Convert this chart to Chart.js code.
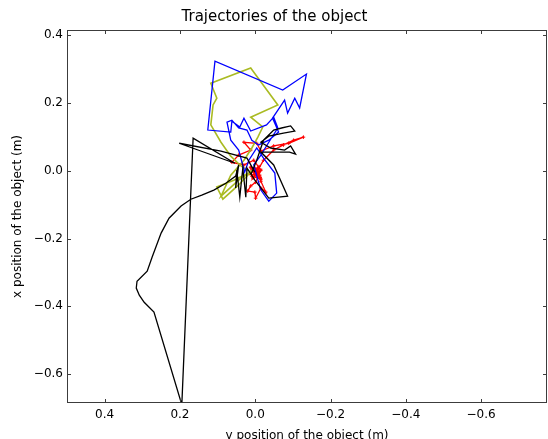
<!DOCTYPE html>
<html>
<head>
<meta charset="utf-8">
<title>Trajectories of the object</title>
<script src="https://cdn.jsdelivr.net/npm/chart.js@4.4.1/dist/chart.umd.min.js"></script>
<style>
  html, body { margin: 0; padding: 0; background: #fff; overflow: hidden; }
  #wrap { width: 548px; height: 439px; overflow: hidden; }
</style>
</head>
<body>
<div id="wrap"><canvas id="traj" width="552" height="450"></canvas></div>
<script>
// horizontal axis = y position, vertical axis = x position (metres)
const blackY = [0.012, -0.004, -0.022, -0.049, -0.070, -0.094, -0.105, -0.075, -0.036, -0.015,
  -0.041, -0.078, -0.094, -0.107, -0.091, -0.015, -0.049, -0.086, -0.036, 0.001,
  0.022, 0.025, 0.033, 0.041, 0.049, 0.052, 0.044, 0.052, 0.078, 0.110,
  0.142, 0.171, 0.197, 0.229, 0.250, 0.274, 0.287, 0.314, 0.316, 0.308,
  0.295, 0.269, 0.195, 0.165, 0.054, 0.202, 0.091, 0.022, 0.001];
const blackX = [-0.013, 0.031, 0.090, 0.120, 0.126, 0.132, 0.117, 0.111, 0.102, 0.084,
  0.067, 0.061, 0.073, 0.049, 0.055, 0.055, 0.017, -0.075, -0.081, -0.028,
  0.008, -0.078, 0.008, -0.078, 0.002, -0.051, 0.017, -0.016, -0.037, -0.057,
  -0.072, -0.084, -0.104, -0.140, -0.184, -0.255, -0.296, -0.326, -0.346, -0.367,
  -0.388, -0.417, -0.690, 0.096, 0.022, 0.081, 0.058, 0.037, -0.004];

const blueY = [-0.001, -0.015, -0.036, -0.057, -0.052, -0.022, -0.004, 0.017, 0.028, 0.044,
  0.065, 0.075, 0.062, 0.044, 0.022, 0.009, -0.009, -0.036, -0.062, -0.046,
  -0.078, -0.086, -0.105, -0.118, -0.136, -0.073, 0.107, 0.126, 0.065, 0.062,
  0.041, 0.030, 0.012, -0.030, -0.049, -0.060, -0.036, -0.015, 0.004, -0.004];
const blueX = [-0.004, -0.057, -0.090, -0.066, -0.007, 0.037, 0.067, 0.031, -0.004, 0.061,
  0.090, 0.143, 0.149, 0.126, 0.120, 0.090, 0.076, 0.090, 0.114, 0.155,
  0.208, 0.170, 0.214, 0.185, 0.285, 0.238, 0.323, 0.120, 0.114, 0.146,
  0.129, 0.155, 0.117, 0.135, 0.158, 0.126, 0.084, 0.046, 0.017, -0.013];

const oliveY = [0.012, 0.057, 0.102, 0.086, 0.044, 0.007, 0.044, 0.091, 0.065, 0.030,
  0.009, -0.007, -0.020, 0.012, -0.060, 0.012, 0.118, 0.102, 0.112, 0.118,
  0.091, 0.065, 0.038, 0.012];
const oliveX = [-0.004, -0.028, -0.048, -0.084, -0.042, 0.002, -0.028, -0.075, -0.013, 0.031,
  0.067, 0.099, 0.129, 0.158, 0.194, 0.303, 0.258, 0.214, 0.194, 0.135,
  0.084, 0.043, 0.014, -0.004];

const redY = [0.004, -0.007, 0.009, -0.012, 0.001, -0.015, 0.009, -0.009, 0.012, -0.013,
  0.015, -0.010, 0.006, -0.014, -0.001, 0.012, 0.020, 0.001, -0.001, -0.015,
  -0.028, -0.015, -0.004, -0.022, -0.049, -0.075, -0.102, -0.128, -0.089, -0.049,
  -0.015, -0.004, 0.030, 0.012, 0.044, 0.062, 0.030, 0.004, -0.015, 0.001];
const redX = [-0.004, -0.019, 0.002, -0.013, 0.008, -0.025, -0.016, 0.005, 0.010, -0.020,
  -0.008, 0.012, -0.022, 0.000, -0.034, -0.045, -0.060, -0.063, -0.081, -0.051,
  -0.063, -0.031, -0.004, 0.031, 0.061, 0.076, 0.090, 0.099, 0.081, 0.073,
  0.058, 0.081, 0.084, 0.061, 0.046, 0.025, 0.017, 0.031, 0.002, -0.010];

const xTicks = [0.4, 0.2, 0.0, -0.2, -0.4, -0.6];
const yTicks = [-0.6, -0.4, -0.2, 0.0, 0.2, 0.4];

const frameColor = '#3c3c3c';

function toPoints(hs, vs) {
  return hs.map((h, i) => ({ x: h, y: vs[i] }));
}

function fmt(v) {
  const s = (Math.abs(v) < 1e-9 ? 0 : v).toFixed(1);
  return s.replace('-', '\u2212');
}

function track(pts, color, extra) {
  return Object.assign({
    data: pts,
    showLine: true,
    borderColor: color,
    backgroundColor: color,
    borderWidth: 1.3,
    pointRadius: 0,
    tension: 0,
    clip: 0
  }, extra || {});
}

// box round the plot with inward ticks on every side (classic matplotlib look)
const frameTicks = {
  id: 'frameTicks',
  afterDatasetsDraw(chart) {
    const { ctx, chartArea: a, scales } = chart;
    ctx.save();
    ctx.strokeStyle = frameColor;
    ctx.lineWidth = 1;
    ctx.strokeRect(a.left + 0.5, a.top + 0.5, a.right - a.left - 1, a.bottom - a.top - 1);
    ctx.beginPath();
    scales.x.ticks.forEach((t, i) => {
      const px = Math.round(scales.x.getPixelForTick(i)) + 0.5;
      ctx.moveTo(px, a.bottom); ctx.lineTo(px, a.bottom - 4);
      ctx.moveTo(px, a.top); ctx.lineTo(px, a.top + 4);
    });
    scales.y.ticks.forEach((t, i) => {
      const py = Math.round(scales.y.getPixelForTick(i)) + 0.5;
      ctx.moveTo(a.left, py); ctx.lineTo(a.left + 4, py);
      ctx.moveTo(a.right, py); ctx.lineTo(a.right - 4, py);
    });
    ctx.stroke();
    ctx.restore();
  }
};

Chart.defaults.font.family = '"DejaVu Sans", sans-serif';
Chart.defaults.color = '#000';

new Chart(document.getElementById('traj'), {
  type: 'scatter',
  data: {
    datasets: [
      track(toPoints(blackY, blackX), '#000000'),
      track(toPoints(blueY, blueX), '#0000ff'),
      track(toPoints(oliveY, oliveX), '#aabb22', { borderWidth: 1.6 }),
      track(toPoints(redY, redX), '#ff0000', {
        pointRadius: 1.8,
        pointStyle: 'cross',
        pointBorderWidth: 1
      })
    ]
  },
  options: {
    responsive: false,
    animation: false,
    layout: { padding: { right: 3 } },
    plugins: {
      legend: { display: false },
      tooltip: { enabled: false },
      title: {
        display: true,
        text: 'Trajectories of the object',
        color: '#000',
        font: { size: 15, weight: 'normal' },
        padding: { top: 8, bottom: 4 }
      }
    },
    scales: {
      x: {
        type: 'linear',
        position: 'bottom',
        reverse: true,
        min: -0.775,
        max: 0.5,
        grid: { display: false, drawTicks: false },
        border: { display: false },
        ticks: { padding: 5, font: { size: 12 }, callback: v => fmt(v) },
        title: {
          display: true,
          text: 'y position of the object (m)',
          font: { size: 12 },
          padding: { top: 0, bottom: 7 }
        },
        afterBuildTicks: s => { s.ticks = xTicks.map(v => ({ value: v })); },
        afterFit: s => { s.height = 47; }
      },
      y: {
        type: 'linear',
        min: -0.685,
        max: 0.415,
        grid: { display: false, drawTicks: false },
        border: { display: false },
        ticks: { padding: 4, font: { size: 12 }, callback: v => fmt(v) },
        title: {
          display: true,
          text: 'x position of the object (m)',
          font: { size: 12 },
          padding: { top: 11, bottom: 0 }
        },
        afterBuildTicks: s => { s.ticks = yTicks.map(v => ({ value: v })); },
        afterFit: s => { s.width = 67; }
      }
    }
  },
  plugins: [frameTicks]
});
</script>
</body>
</html>
